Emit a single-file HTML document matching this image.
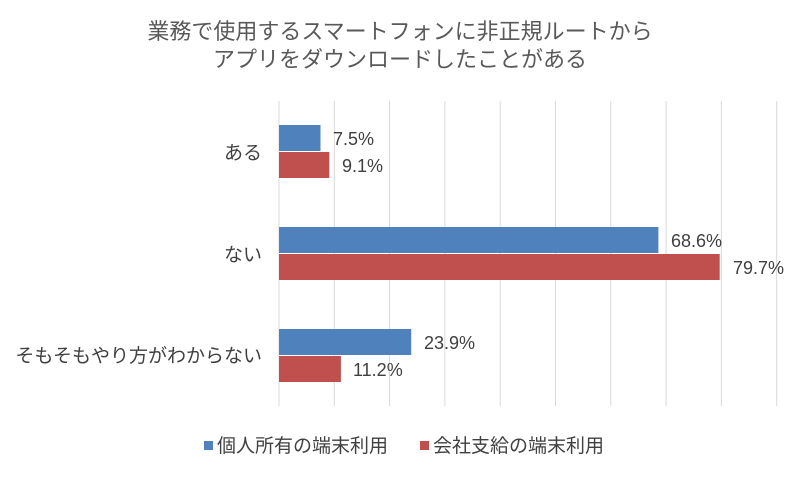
<!DOCTYPE html>
<html><head><meta charset="utf-8"><style>
body{margin:0;background:#fff;}
svg text{font-family:"Liberation Sans","Noto Sans CJK JP",sans-serif;}
</style></head><body>
<svg width="800" height="476" xmlns="http://www.w3.org/2000/svg">
<rect width="800" height="476" fill="#fff"/>
<text x="400" y="39" font-size="22" fill="#595959" text-anchor="middle">業務で使用するスマートフォンに非正規ルートから</text>
<text x="400" y="67" font-size="22" fill="#595959" text-anchor="middle">アプリをダウンロードしたことがある</text>
<g stroke="#d9d9d9" stroke-width="1">
<line x1="279" y1="101" x2="279" y2="406"/><line x1="334.3" y1="101" x2="334.3" y2="406"/>
<line x1="389.6" y1="101" x2="389.6" y2="406"/><line x1="444.9" y1="101" x2="444.9" y2="406"/>
<line x1="500.2" y1="101" x2="500.2" y2="406"/><line x1="555.5" y1="101" x2="555.5" y2="406"/>
<line x1="610.8" y1="101" x2="610.8" y2="406"/><line x1="666.1" y1="101" x2="666.1" y2="406"/>
<line x1="721.4" y1="101" x2="721.4" y2="406"/><line x1="776.7" y1="101" x2="776.7" y2="406"/>
</g>
<g>
<rect x="279" y="125" width="41.5" height="26" fill="#4f81bd"/>
<rect x="279" y="152" width="50.3" height="26" fill="#c0504d"/>
<rect x="279" y="227" width="379.4" height="26" fill="#4f81bd"/>
<rect x="279" y="254" width="440.7" height="26" fill="#c0504d"/>
<rect x="279" y="329" width="132.2" height="26" fill="#4f81bd"/>
<rect x="279" y="356" width="61.9" height="26" fill="#c0504d"/>
</g>
<g font-size="18" fill="#404040">
<text x="333" y="145">7.5%</text>
<text x="342" y="172">9.1%</text>
<text x="671" y="247">68.6%</text>
<text x="733" y="274">79.7%</text>
<text x="424" y="349">23.9%</text>
<text x="353" y="376">11.2%</text>
</g>
<g font-size="19" fill="#404040" text-anchor="end">
<text x="262" y="159">ある</text>
<text x="262" y="261">ない</text>
<text x="262" y="362">そもそもやり方がわからない</text>
</g>
<rect x="204" y="441" width="9" height="9" fill="#4f81bd"/>
<text x="217" y="452" font-size="19" fill="#404040">個人所有の端末利用</text>
<rect x="420" y="441" width="9" height="9" fill="#c0504d"/>
<text x="433" y="452" font-size="19" fill="#404040">会社支給の端末利用</text>
</svg>
</body></html>
